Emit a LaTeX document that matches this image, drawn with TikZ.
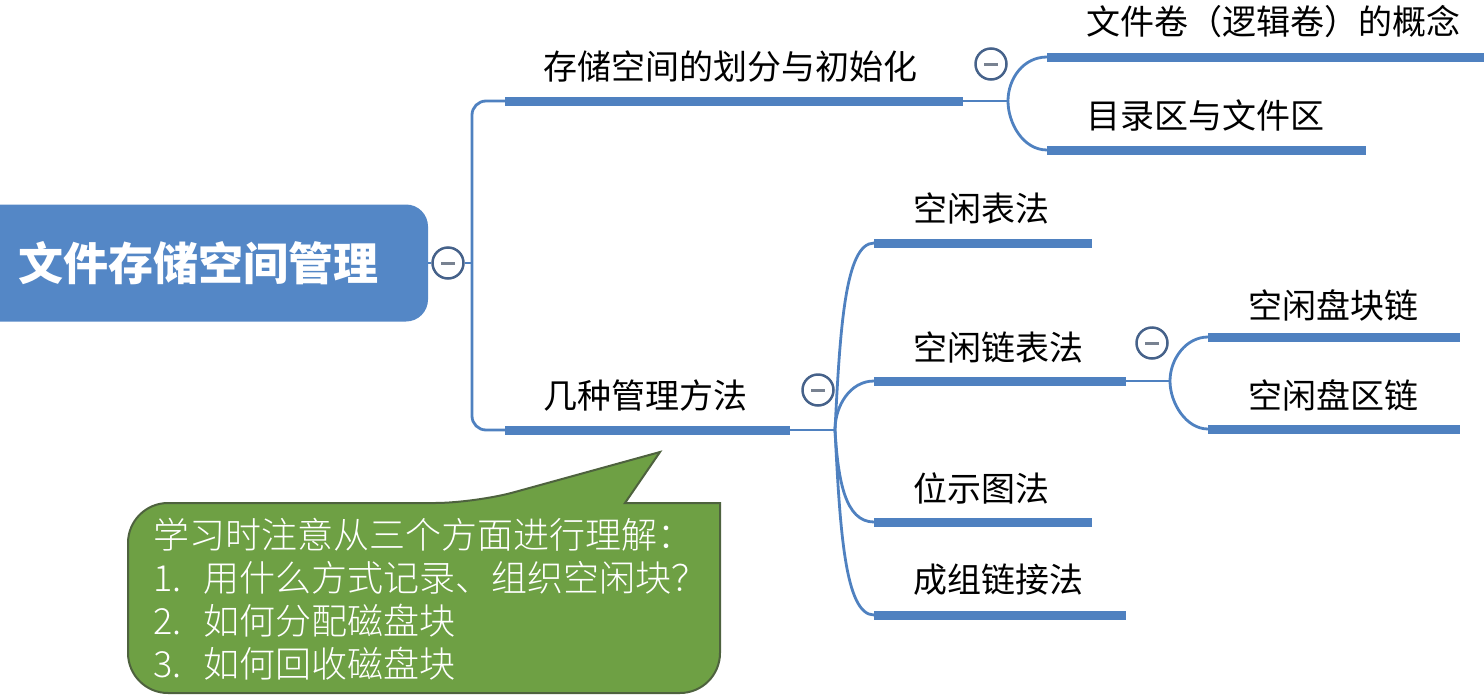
\documentclass[tikz,border=0pt]{standalone}
\usepackage{fontspec}
\newfontfamily\cjk{Noto Sans CJK SC}
\newfontfamily\cjklt{Noto Sans CJK SC Light}
\usetikzlibrary{calc}
\definecolor{barc}{RGB}{79,129,192}
\definecolor{rootc}{RGB}{84,135,198}
\definecolor{foldc}{RGB}{70,98,138}
\definecolor{minusc}{RGB}{120,130,145}
\definecolor{notec}{RGB}{110,160,68}
\definecolor{noteln}{RGB}{78,98,62}
\tikzset{
  root/.style  ={rectangle, rounded corners=22pt, fill=rootc, text=white, font=\cjk\bfseries\fontsize{45}{50}\selectfont, minimum width=458pt, minimum height=117pt},
  topic/.style ={anchor=west, inner sep=0pt, font=\cjk\fontsize{34}{40}\selectfont},
  bar/.style   ={draw=barc, line width=9pt},
  lnk/.style   ={draw=barc, line width=2.8pt},
  fold/.style  ={circle, draw=foldc, line width=2.5pt, fill=white, minimum size=31pt, inner sep=0pt,
                 path picture={\draw[minusc, line width=3pt] ([xshift=-7pt]path picture bounding box.center) -- ([xshift=7pt]path picture bounding box.center);}},
  note/.style  ={fill=notec, draw=noteln, line width=2pt},
  notetxt/.style={anchor=west, align=left, text=white, inner sep=0pt, font=\cjklt\fontsize{36}{43}\selectfont},
}

\begin{document}
\begin{tikzpicture}[x=1pt, y=-1pt]
  \useasboundingbox (0,0) rectangle (1484,694);
  % root
  \node[root] (root) at (199,263) {文件存储空间管理};
  \node[fold] (rf) at (448,263) {};
  \coordinate (j0) at (472,263);
  % bar ends
  \coordinate (t1l) at (505,101);  \coordinate (t1r) at (963,101);  \coordinate (j1) at (1008,101);
  \coordinate (a1l) at (1047,57);  \coordinate (a1r) at (1510,57);
  \coordinate (a2l) at (1047,150); \coordinate (a2r) at (1366,150);
  \coordinate (t2l) at (505,430);  \coordinate (t2r) at (790,430);  \coordinate (j2) at (835,430);
  \coordinate (b1l) at (874,243);  \coordinate (b1r) at (1092,243);
  \coordinate (b2l) at (874,381);  \coordinate (b2r) at (1126,381); \coordinate (j3) at (1170,381);
  \coordinate (b3l) at (874,522);  \coordinate (b3r) at (1092,522);
  \coordinate (b4l) at (874,615);  \coordinate (b4r) at (1126,615);
  \coordinate (c1l) at (1208,337); \coordinate (c1r) at (1460,337);
  \coordinate (c2l) at (1208,429); \coordinate (c2r) at (1460,429);

  \draw[lnk] (root.east) -- (rf.west);
  \draw[lnk] (rf.east) -- (j0);
  \draw[lnk, rounded corners=14pt] (t1l) -| (j0) |- (t2l);

  % first branch
  \draw[bar] (t1l) -- (t1r);
  \node[topic] (t1) at ($(t1l)+(38,-34)$) {存储空间的划分与初始化};
  \draw[lnk] (t1r) -- (j1);
  \node[fold] (f1) at (991,64) {};
  \draw[lnk] (j1) .. controls +(0,-22) and +(-24,0) .. (a1l);
  \draw[lnk] (j1) .. controls +(0,22) and +(-24,0) .. (a2l);
  \draw[bar] (a1l) -- (a1r);
  \draw[bar] (a2l) -- (a2r);
  \node[topic] (a1) at ($(a1l)+(39,-35)$) {文件卷（逻辑卷）的概念};
  \node[topic] (a2) at ($(a2l)+(39,-35)$) {目录区与文件区};

  % second branch
  \draw[bar] (t2l) -- (t2r);
  \node[topic] (t2) at ($(t2l)+(38,-34)$) {几种管理方法};
  \draw[lnk] (t2r) -- (j2);
  \node[fold] (f2) at (818,390) {};
  \draw[lnk] (j2) .. controls +(5,-100) and +(-29,0) .. (b1l);
  \draw[lnk] (j2) .. controls +(0,-24) and +(-24,0) .. (b2l);
  \draw[lnk] (j2) .. controls +(3,50) and +(-29,0) .. (b3l);
  \draw[lnk] (j2) .. controls +(5,100) and +(-29,0) .. (b4l);
  \draw[bar] (b1l) -- (b1r);
  \draw[bar] (b2l) -- (b2r);
  \draw[bar] (b3l) -- (b3r);
  \draw[bar] (b4l) -- (b4r);
  \node[topic] (b1) at ($(b1l)+(39,-35)$) {空闲表法};
  \node[topic] (b2) at ($(b2l)+(39,-34)$) {空闲链表法};
  \node[topic] (b3) at ($(b3l)+(39,-34)$) {位示图法};
  \node[topic] (b4) at ($(b4l)+(39,-35)$) {成组链接法};

  % free list sub-branch
  \draw[lnk] (b2r) -- (j3);
  \node[fold] (f3) at (1152,343) {};
  \draw[lnk] (j3) .. controls +(0,-22) and +(-22,0) .. (c1l);
  \draw[lnk] (j3) .. controls +(0,22) and +(-22,0) .. (c2l);
  \draw[bar] (c1l) -- (c1r);
  \draw[bar] (c2l) -- (c2r);
  \node[topic] (c1) at ($(c1l)+(40,-32)$) {空闲盘块链};
  \node[topic] (c2) at ($(c2l)+(40,-34)$) {空闲盘区链};

  % callout
  \draw[note] (128,600) [rounded corners=40pt] |- (475,503) [sharp corners] -- (660,452) -- (625,503) -- (720,503)
    [rounded corners=40pt] -- (720,693) -- (128,693) -- cycle;
  \node[notetxt] (note) at (153,599) {学习时注意从三个方面进行理解：\\
    \makebox[50pt][l]{1.}用什么方式记录、组织空闲块？\\
    \makebox[50pt][l]{2.}如何分配磁盘块\\
    \makebox[50pt][l]{3.}如何回收磁盘块};
\end{tikzpicture}
\end{document}
